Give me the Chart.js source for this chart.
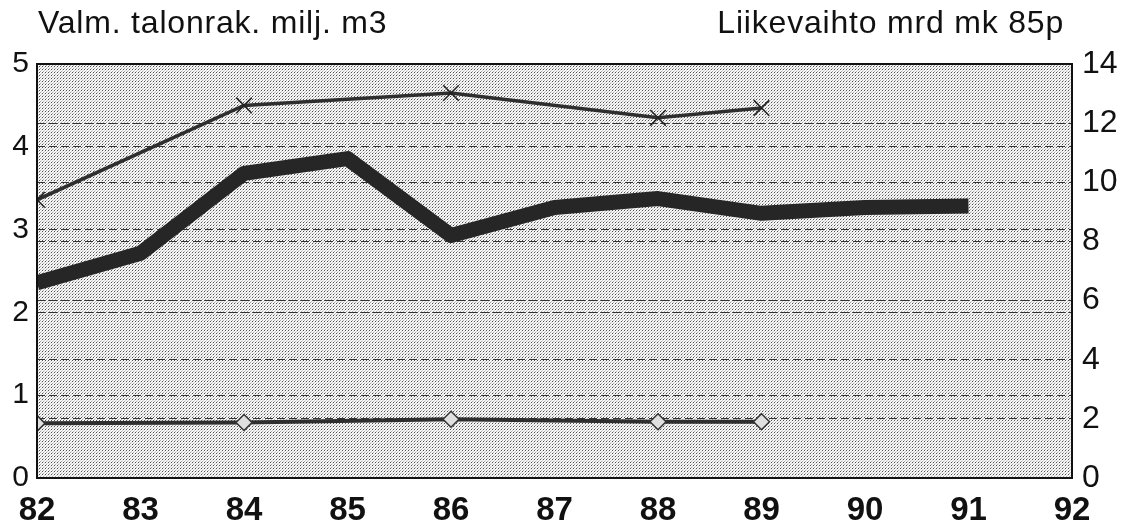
<!DOCTYPE html>
<html><head><meta charset="utf-8">
<script src="https://cdn.jsdelivr.net/npm/chart.js@4/dist/chart.umd.min.js"></script>
<style>
html,body{margin:0;padding:0;background:#fff;}
#wrap{position:relative;width:1134px;height:527px;}
.ttl{position:absolute;top:4px;font-family:"Liberation Sans",Arial,sans-serif;font-size:32px;letter-spacing:0.8px;color:#111;white-space:nowrap;}
</style></head>
<body><div id="wrap">
<canvas id="c" width="1134" height="527"></canvas>
<div class="ttl" style="left:38px">Valm. talonrak. milj. m3</div>
<div class="ttl" style="right:70px">Liikevaihto mrd mk 85p</div>
</div>
<script>
const years = [82,83,84,85,86,87,88,89,90,91,92];
const thinYears = [82,84,86,88,89];
const thinValues = [3.36,4.5,4.65,4.35,4.47];
const thickYears = [82,83,84,85,86,87,88,89,90,91];
const thickValues = [6.6,7.6,10.3,10.8,8.2,9.15,9.45,8.95,9.15,9.2];
const diamondYears = [82,84,86,88,89];
const diamondValues = [0.66,0.67,0.71,0.68,0.68];
const leftTicks = [0,1,2,3,4,5];
const rightTicks = [0,2,4,6,8,10,12,14];

const pts = (xs, ys) => xs.map((x,i)=>({x:x,y:ys[i]}));

function makePattern(ctx){
  const p = document.createElement('canvas');
  p.width = 3; p.height = 3;
  const g = p.getContext('2d');
  g.fillStyle = '#f6f6f6'; g.fillRect(0,0,3,3);
  g.fillStyle = '#505050'; g.fillRect(0,0,1,1);
  g.fillStyle = '#a8a8a8'; g.fillRect(1,2,1,1);
  g.fillStyle = '#d0d0d0'; g.fillRect(2,1,1,1);
  return ctx.createPattern(p,'repeat');
}

const bgPlugin = {
  id:'bg',
  beforeDraw(chart){
    const {ctx, chartArea:a} = chart;
    ctx.save();
    ctx.fillStyle = makePattern(ctx);
    ctx.fillRect(a.left,a.top,a.right-a.left,a.bottom-a.top);
    ctx.restore();
  },
  afterDatasetsDraw(chart){
    const {ctx, chartArea:a} = chart;
    ctx.save();
    ctx.strokeStyle = '#111'; ctx.lineWidth = 2;
    ctx.strokeRect(a.left,a.top,a.right-a.left,a.bottom-a.top);
    ctx.restore();
  }
};

const fam = '"Liberation Sans", Arial, sans-serif';

new Chart(document.getElementById('c'), {
  type:'line',
  data:{datasets:[
    {data:pts(thinYears,thinValues), yAxisID:'y', borderColor:'#2e2e2e', borderWidth:3.5,
     pointStyle:'crossRot', pointRadius:11, pointBorderColor:'#222', pointBorderWidth:1.5, tension:0},
    {data:pts(thickYears,thickValues), yAxisID:'y2', borderColor:'#262626', borderWidth:15,
     pointRadius:0, tension:0, borderJoinStyle:'round'},
    {data:pts(diamondYears,diamondValues), yAxisID:'y', borderColor:'#2e2e2e', borderWidth:4,
     pointStyle:'rectRot', pointRadius:8, pointBackgroundColor:'#e0e0e0', pointBorderColor:'#333', pointBorderWidth:1.5, tension:0}
  ]},
  options:{
    responsive:false, animation:false,
    layout:{padding:{top:64,left:0,right:0,bottom:0}},
    plugins:{legend:{display:false}, tooltip:{enabled:false}},
    scales:{
      x:{type:'linear', min:years[0], max:years[years.length-1],
         afterBuildTicks(s){ s.ticks = years.map(v=>({value:v})); },
         afterFit(s){ s.height = 49; },
         grid:{display:false}, border:{display:false},
         ticks:{font:{family:fam,size:33,weight:'bold'}, color:'#111', padding:5, maxRotation:0, autoSkip:false}},
      y:{position:'left', min:0, max:5,
         afterBuildTicks(s){ s.ticks = leftTicks.map(v=>({value:v})); },
         afterFit(s){ s.width = 37; },
         grid:{color:'#333', lineWidth:1, drawTicks:false}, border:{display:false, dash:[8,4]},
         ticks:{font:{family:fam,size:30}, color:'#111', padding:8}},
      y2:{position:'right', min:0, max:14,
         afterBuildTicks(s){ s.ticks = rightTicks.map(v=>({value:v})); },
         afterFit(s){ s.width = 62; },
         grid:{color:'#333', lineWidth:1, drawTicks:false}, border:{display:false, dash:[8,4]},
         ticks:{font:{family:fam,size:32}, color:'#111', padding:10}}
    }
  },
  plugins:[bgPlugin]
});
</script>
</body></html>
